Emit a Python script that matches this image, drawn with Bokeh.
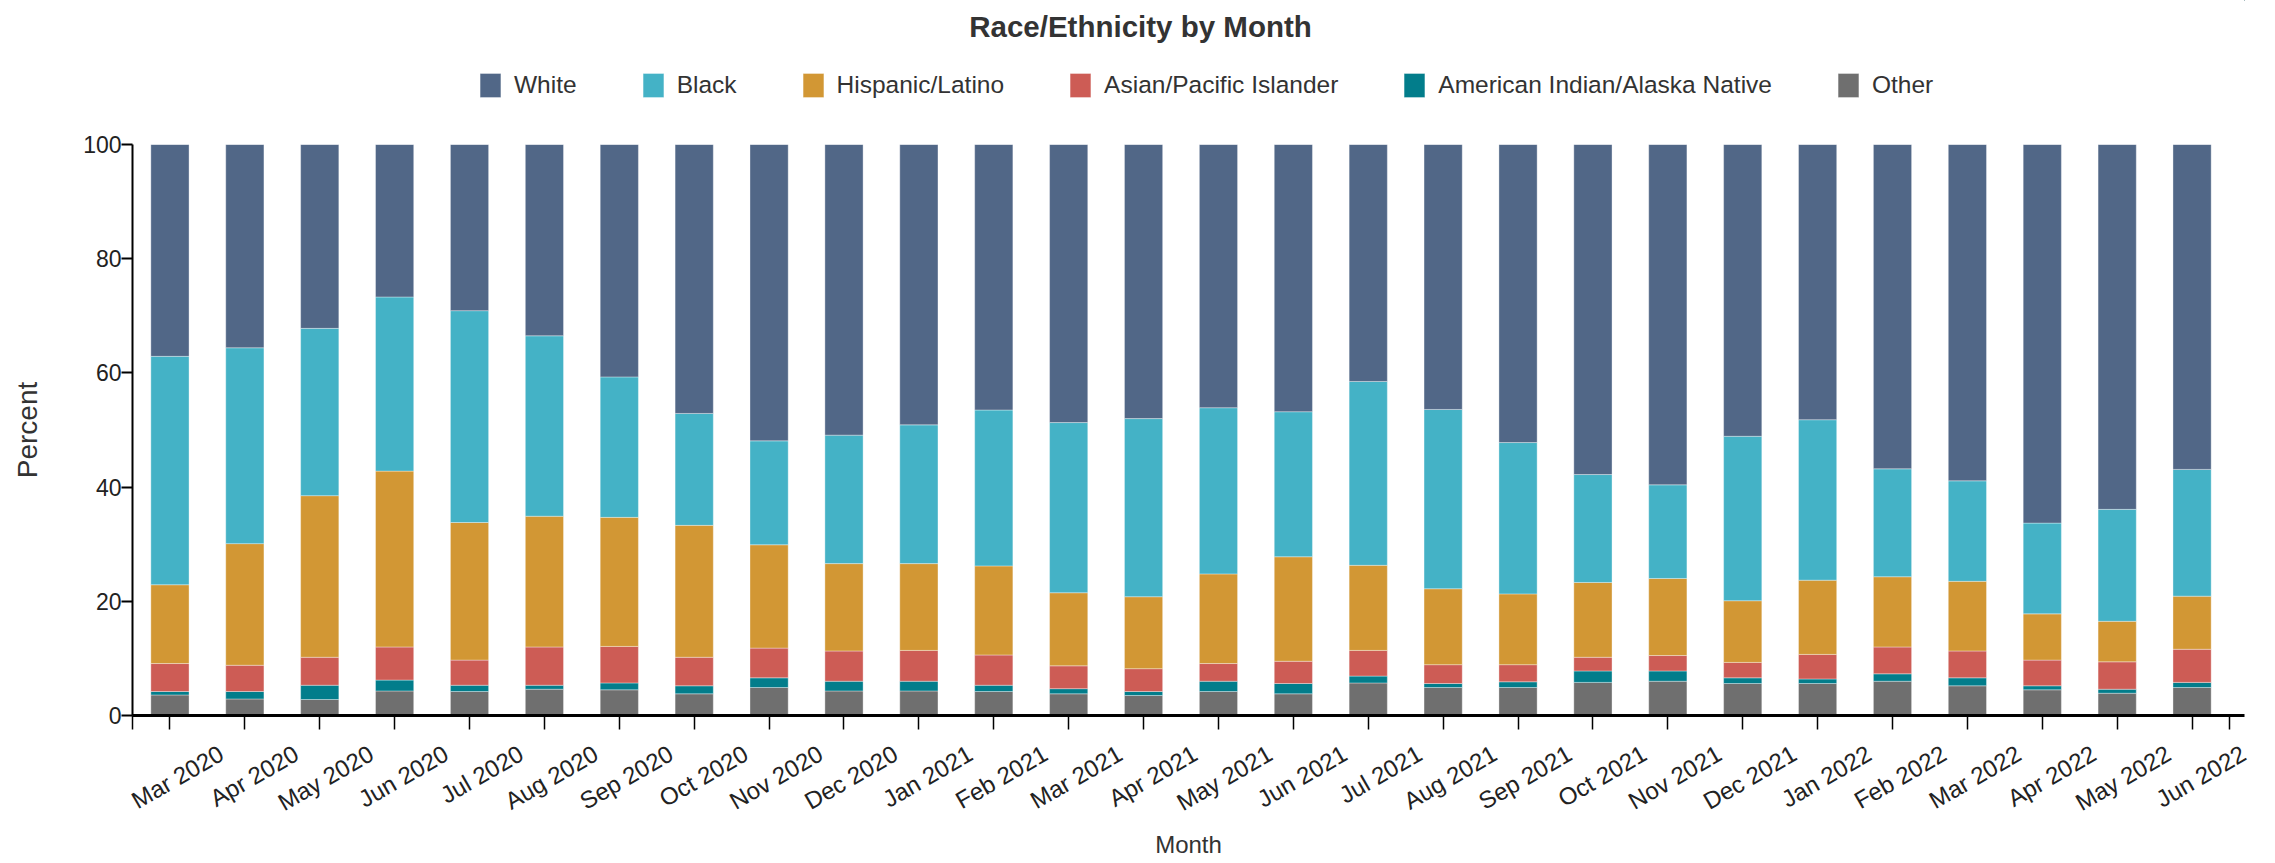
import math
from bokeh.plotting import figure
from bokeh.layouts import column
from bokeh.models import (Range1d, FixedTicker, ColumnDataSource, Legend, LegendItem, Label)
from bokeh.embed import file_html
from bokeh.resources import INLINE

months = ["Mar 2020", "Apr 2020", "May 2020", "Jun 2020", "Jul 2020", "Aug 2020",
          "Sep 2020", "Oct 2020", "Nov 2020", "Dec 2020", "Jan 2021", "Feb 2021",
          "Mar 2021", "Apr 2021", "May 2021", "Jun 2021", "Jul 2021", "Aug 2021",
          "Sep 2021", "Oct 2021", "Nov 2021", "Dec 2021", "Jan 2022", "Feb 2022",
          "Mar 2022", "Apr 2022", "May 2022", "Jun 2022"]

other = [3.6, 2.9, 2.8, 4.3, 4.2, 4.6, 4.5, 3.8, 4.9, 4.3, 4.3, 4.2, 3.8, 3.5,
         4.2, 3.8, 5.7, 4.9, 4.9, 5.8, 6.0, 5.6, 5.6, 6.0, 5.2, 4.5, 3.9, 4.9]
aian = [0.6, 1.3, 2.5, 1.9, 1.1, 0.7, 1.2, 1.4, 1.7, 1.7, 1.7, 1.1, 0.9, 0.7,
        1.8, 1.8, 1.2, 0.7, 1.0, 2.0, 1.8, 1.0, 0.8, 1.3, 1.4, 0.7, 0.7, 0.9]
asian = [4.9, 4.6, 4.9, 5.8, 4.4, 6.7, 6.4, 5.0, 5.2, 5.3, 5.4, 5.3, 4.0, 4.0,
         3.1, 3.9, 4.5, 3.3, 3.0, 2.4, 2.7, 2.7, 4.3, 4.7, 4.7, 4.5, 4.8, 5.8]
hispanic = [13.8, 21.3, 28.3, 30.8, 24.1, 22.9, 22.6, 23.1, 18.1, 15.3, 15.2, 15.6,
            12.8, 12.6, 15.7, 18.3, 14.9, 13.3, 12.4, 13.1, 13.5, 10.8, 13.0, 12.3,
            12.2, 8.1, 7.1, 9.3]
black = [40.0, 34.3, 29.3, 30.5, 37.1, 31.6, 24.6, 19.6, 18.2, 22.5, 24.3, 27.3,
         29.8, 31.2, 29.1, 25.4, 32.2, 31.4, 26.5, 18.9, 16.4, 28.8, 28.1, 18.9,
         17.6, 15.9, 19.6, 22.2]
white = [37.1, 35.6, 32.2, 26.7, 29.1, 33.5, 40.7, 47.1, 51.9, 50.9, 49.1, 46.5,
         48.7, 48.0, 46.1, 46.8, 41.5, 46.4, 52.2, 57.8, 59.6, 51.1, 48.2, 56.8,
         58.9, 66.3, 63.9, 56.9]

stack_keys = ["other", "aian", "asian", "hispanic", "black", "white"]
stack_labels = ["Other", "American Indian/Alaska Native", "Asian/Pacific Islander",
                "Hispanic/Latino", "Black", "White"]
stack_colors = ["#6f6f6f", "#027d8b", "#cd5c55", "#d29734", "#44b2c6", "#516787"]
y_ticks = [0, 20, 40, 60, 80, 100]

FONT = "Liberation Sans"
LABEL_SHIFT = 0.6875   # month labels sit to the right of their tick
TOTAL_W = 2259
HEAD_H = 132

xs = list(range(len(months)))
src = ColumnDataSource(dict(x=xs, month=months, other=other, aian=aian, asian=asian,
                            hispanic=hispanic, black=black, white=white))

bar_style = dict(width=0.51, color=stack_colors, line_color="white",
                 line_alpha=0.35, line_width=1)

# ---------------- header: title + legend ----------------
# (its ranges keep the stacked bars out of view; they only feed the legend swatches)
head = figure(width=TOTAL_W, height=HEAD_H, title=None,
              x_range=Range1d(-100, -99), y_range=Range1d(-100, -99),
              x_axis_type=None, y_axis_type=None,
              output_backend="svg", toolbar_location=None, min_border=0)
head.outline_line_color = None
head.grid.visible = False

swatches = head.vbar_stack(stack_keys, x="x", source=src, **bar_style)

title = Label(x=1008, y=HEAD_H - 26, x_units="screen", y_units="screen",
              text="Race/Ethnicity by Month", text_align="center",
              text_baseline="alphabetic", text_font=FONT, text_font_size="29.5px",
              text_font_style="bold", text_color="#333333")
head.add_layout(title)

order = [5, 4, 3, 2, 1, 0]
legend = Legend(items=[LegendItem(label=stack_labels[i], renderers=[swatches[i]]) for i in order],
                orientation="horizontal", location=(345, HEAD_H - 100),
                glyph_width=26, glyph_height=30, label_standoff=11, spacing=63,
                padding=0, margin=0, border_line_alpha=0, background_fill_alpha=0,
                label_text_font=FONT, label_text_font_size="24.5px",
                label_text_color="#333333")
head.add_layout(legend)

# ---------------- main chart ----------------
p = figure(frame_width=2112, frame_height=571, title=None,
           x_range=Range1d(-0.5, 27.7), y_range=Range1d(0, 100),
           output_backend="svg", toolbar_location=None,
           min_border_left=132, min_border_right=15, min_border_top=12,
           min_border_bottom=132)
p.outline_line_color = None
p.xgrid.visible = False
p.ygrid.visible = False

p.vbar_stack(stack_keys, x="x", source=src, **bar_style)

# y axis
p.yaxis.ticker = FixedTicker(ticks=y_ticks)
p.yaxis.minor_tick_line_color = None
p.yaxis.major_tick_out = 11
p.yaxis.major_tick_in = 0
p.yaxis.major_tick_line_width = 2
p.yaxis.axis_line_width = 2
p.yaxis.major_label_standoff = 0
p.yaxis.major_label_text_font = FONT
p.yaxis.major_label_text_font_size = "23px"
p.yaxis.major_label_text_color = "#222222"
p.yaxis.axis_label = "Percent"
p.yaxis.axis_label_text_font = FONT
p.yaxis.axis_label_text_font_size = "28px"
p.yaxis.axis_label_text_font_style = "normal"
p.yaxis.axis_label_text_color = "#333333"
p.yaxis.axis_label_standoff = 37

# x axis: minor ticks at bar centres (and domain ends), labels on shifted major ticks
label_pos = [k + LABEL_SHIFT for k in xs]
p.xaxis.ticker = FixedTicker(ticks=label_pos,
                             minor_ticks=[-0.5] + xs + [len(months) - 0.5])
p.xaxis.major_label_overrides = {pos: m for pos, m in zip(label_pos, months)}
p.xaxis.major_tick_line_color = None
p.xaxis.major_tick_out = 0
p.xaxis.major_tick_in = 0
p.xaxis.minor_tick_out = 14
p.xaxis.minor_tick_in = 0
p.xaxis.minor_tick_line_width = 1.5
p.xaxis.minor_tick_line_color = "black"
p.xaxis.axis_line_width = 3
p.xaxis.major_label_orientation = math.pi / 6
p.xaxis.major_label_standoff = 22
p.xaxis.major_label_text_font = FONT
p.xaxis.major_label_text_font_size = "24px"
p.xaxis.major_label_text_color = "#222222"
p.xaxis.axis_label = "Month"
p.xaxis.axis_label_text_font = FONT
p.xaxis.axis_label_text_font_size = "24px"
p.xaxis.axis_label_text_font_style = "normal"
p.xaxis.axis_label_text_color = "#333333"
p.xaxis.axis_label_standoff = 0

layout = column(head, p, spacing=0)
open("out.html", "w").write(file_html(layout, INLINE))
